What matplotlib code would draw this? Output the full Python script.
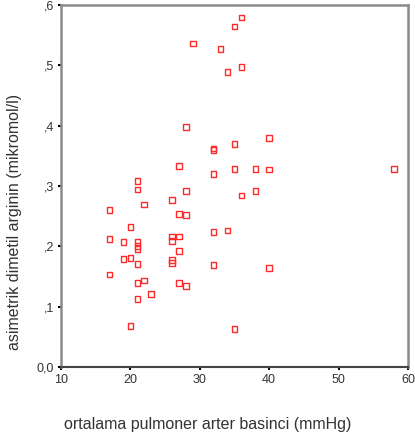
import matplotlib
matplotlib.use("Agg")
import matplotlib.pyplot as plt
from matplotlib.ticker import FixedLocator

plt.rcParams['font.family'] = ['Liberation Sans', 'DejaVu Sans']

pap = [36, 35, 29, 33, 34, 36, 28, 32, 32, 35, 27, 32, 35, 38, 40, 58, 40,
       21, 21, 28, 38, 36, 26, 17, 22, 27, 28, 20, 17, 19, 21, 21, 21,
       26, 26, 27, 27, 19, 20, 21, 26, 26, 32, 34, 32, 17, 22, 21, 27,
       28, 23, 21, 20, 35, 40]
adma = [0.579, 0.564, 0.536, 0.527, 0.489, 0.497, 0.398, 0.362, 0.360, 0.370,
        0.333, 0.320, 0.328, 0.328, 0.327, 0.328, 0.380,
        0.308, 0.294, 0.292, 0.292, 0.284, 0.277, 0.260, 0.269, 0.254, 0.252,
        0.232, 0.212, 0.207, 0.207, 0.201, 0.196,
        0.216, 0.209, 0.216, 0.192, 0.179, 0.181, 0.171, 0.177, 0.172,
        0.224, 0.226, 0.169, 0.153, 0.143, 0.139, 0.139,
        0.134, 0.121, 0.113, 0.068, 0.063, 0.164]

xticks = [10, 20, 30, 40, 50, 60]
yticks = [0.0, 0.1, 0.2, 0.3, 0.4, 0.5, 0.6]
yticklabels = ['0,0', ',1', ',2', ',3', ',4', ',5', ',6']
xlabel = 'ortalama pulmoner arter basinci (mmHg)'
ylabel = 'asimetrik dimetil arginin (mikromol/l)'

fig = plt.figure(figsize=(4.15, 4.42), dpi=100)
ax = fig.add_axes([0.147, 0.1697, 0.836, 0.819])
ax.scatter(pap, adma, marker='s', s=16, facecolors='none',
           edgecolors='#ff2a2a', linewidths=1.0, clip_on=False, zorder=3)
ax.set_xlim(10, 60)
ax.set_ylim(0, 0.6)
ax.xaxis.set_major_locator(FixedLocator(xticks))
ax.yaxis.set_major_locator(FixedLocator(yticks))
ax.set_xticklabels([str(t) for t in xticks])
ax.set_yticklabels(yticklabels)
ax.tick_params(axis='both', direction='out', length=2.5, width=1.5,
               color='black', labelsize=9, labelcolor='#333333', pad=2.5)
ax.spines['bottom'].set_color('#444444')
ax.spines['bottom'].set_linewidth(1.5)
for s in ['left', 'top', 'right']:
    ax.spines[s].set_color('#8a8a8a')
    ax.spines[s].set_linewidth(1.8)
fig.text(0.5, 1 - 425 / 442, xlabel, fontsize=11.5, color='#333333',
         ha='center', va='center')
fig.text(15 / 415, 1 - 222 / 442, ylabel, fontsize=11.5, color='#333333',
         ha='center', va='center', rotation=90)
fig.savefig('out.png', dpi=100)
